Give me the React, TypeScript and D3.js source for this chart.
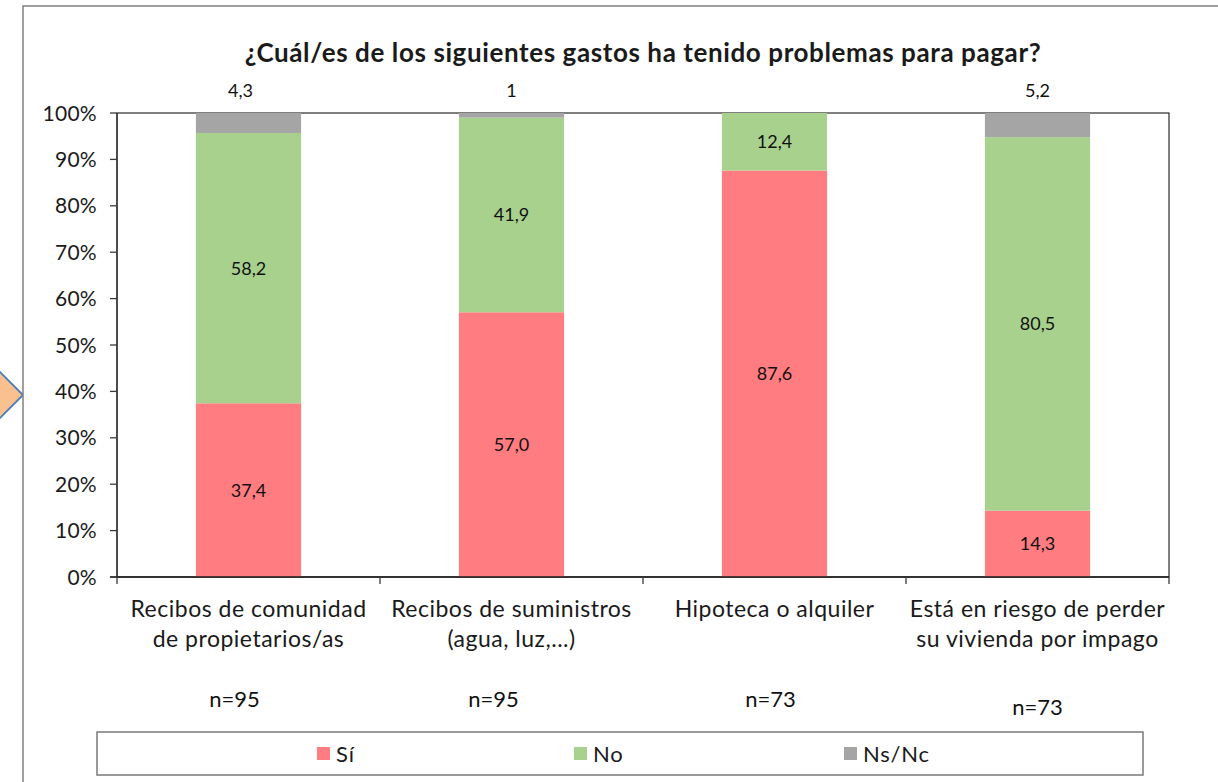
import React from "react";
import * as d3 from "d3";

const title = "¿Cuál/es de los siguientes gastos ha tenido problemas para pagar?";
const categories = [
  ["Recibos de comunidad", "de propietarios/as"],
  ["Recibos de suministros", "(agua, luz,...)"],
  ["Hipoteca o alquiler"],
  ["Está en riesgo de perder", "su vivienda por impago"],
];
const sampleSizes = ["n=95", "n=95", "n=73", "n=73"];
const seriesNames = ["Sí", "No", "Ns/Nc"];
const siValues = [37.4, 57.0, 87.6, 14.3];
const noValues = [58.2, 41.9, 12.4, 80.5];
const nsncValues = [4.3, 1, 0, 5.2];
const yTicks = [0, 0.1, 0.2, 0.3, 0.4, 0.5, 0.6, 0.7, 0.8, 0.9, 1];
const colors = ["#FF7C80", "#A9D18E", "#A5A5A5"];

const W = 1218;
const H = 782;
const plot = { left: 117, right: 1169, top: 113, bottom: 577 };
const FONT = "Lato, 'Open Sans', sans-serif";
const topLabelDx = [-8, 0, 0, 0];
const nLabelDx = [-14, -18, -4, 0];
const nLabelY = [699, 699, 699, 707];
const legendX = [317, 574, 844];

function fmt(v: number, seriesIdx: number) {
  if (seriesIdx === 2 && Number.isInteger(v)) return String(v);
  return v.toFixed(1).replace(".", ",");
}

export default function App() {
  const rows = categories.map((c, i) => ({
    key: String(i),
    s0: siValues[i],
    s1: noValues[i],
    s2: nsncValues[i],
  }));
  const keys = ["s0", "s1", "s2"];
  const stacked = d3.stack<any>().keys(keys).offset(d3.stackOffsetExpand)(rows);

  const x = d3
    .scaleBand<string>()
    .domain(rows.map((r) => r.key))
    .range([plot.left, plot.right])
    .paddingInner(0.6)
    .paddingOuter(0.3);
  const y = d3.scaleLinear().domain([0, 1]).range([plot.bottom, plot.top]);
  const pct = d3.format(".0%");

  return (
    <svg
      width={W}
      height={H}
      style={{ position: "absolute", left: 0, top: 0, background: "#fff" }}
      fontFamily={FONT}
    >
      <rect x={0} y={0} width={W} height={H} fill="#fff" />
      {/* decorative arrow shape at left */}
      <polygon
        points="-25,395 -1,371 23,395 -1,419"
        fill="#FAC090"
        stroke="#4A7EBB"
        strokeWidth={1.8}
      />
      {/* chart border */}
      <rect x={23} y={6} width={1400} height={900} fill="#fff" stroke="#808080" strokeWidth={1.5} />

      {/* title */}
      <text x={643} y={62} textAnchor="middle" fontSize={26} fontWeight={700} letterSpacing={0.6} fill="#1a1a1a">
        {title}
      </text>

      {/* plot area border */}
      <rect
        x={plot.left}
        y={plot.top}
        width={plot.right - plot.left}
        height={plot.bottom - plot.top}
        fill="#fff"
        stroke="#000"
        strokeWidth={1}
      />

      {/* bars */}
      {stacked.map((layer, si) =>
        layer.map((d, i) => {
          const y0 = y(d[0]);
          const y1 = y(d[1]);
          if (y0 - y1 <= 0) return null;
          return (
            <rect
              key={`b${si}-${i}`}
              x={x(rows[i].key)}
              y={y1}
              width={x.bandwidth()}
              height={y0 - y1}
              fill={colors[si]}
            />
          );
        })
      )}

      {/* axes */}
      <line x1={plot.left} x2={plot.left} y1={plot.top} y2={plot.bottom} stroke="#3a3a3a" strokeWidth={1.5} />
      <line x1={plot.left - 7} x2={plot.right} y1={plot.bottom} y2={plot.bottom} stroke="#1a1a1a" strokeWidth={1.5} />
      {yTicks.map((t) => (
        <g key={`yt${t}`}>
          <line x1={plot.left - 7} x2={plot.left} y1={y(t)} y2={y(t)} stroke="#3a3a3a" strokeWidth={1.3} />
          <text x={97} y={y(t)} dy="0.36em" textAnchor="end" fontSize={21} letterSpacing={0.3} fill="#1a1a1a">
            {pct(t)}
          </text>
        </g>
      ))}
      {d3.range(categories.length + 1).map((i) => {
        const xx = plot.left + (i * (plot.right - plot.left)) / categories.length;
        return (
          <line key={`xt${i}`} x1={xx} x2={xx} y1={plot.bottom} y2={plot.bottom + 7} stroke="#3a3a3a" strokeWidth={1.3} />
        );
      })}

      {/* data labels */}
      {stacked.map((layer, si) =>
        layer.map((d, i) => {
          const v = [siValues, noValues, nsncValues][si][i];
          if (!v) return null;
          const cx = (x(rows[i].key) as number) + x.bandwidth() / 2 + (si === 2 ? topLabelDx[i] : 0);
          const cy = si === 2 ? 91 : (y(d[0]) + y(d[1])) / 2;
          return (
            <text key={`l${si}-${i}`} x={cx} y={cy} dy="0.36em" textAnchor="middle" fontSize={18} fill="#111">
              {fmt(v, si)}
            </text>
          );
        })
      )}

      {/* category labels */}
      {categories.map((lines, i) => {
        const cx = (x(rows[i].key) as number) + x.bandwidth() / 2;
        return (
          <text key={`c${i}`} x={cx} textAnchor="middle" fontSize={23} letterSpacing={0.5} fill="#1a1a1a">
            {lines.map((ln, j) => (
              <tspan key={j} x={cx} y={609 + j * 29.5} dy="0.36em">
                {ln}
              </tspan>
            ))}
          </text>
        );
      })}

      {/* sample sizes */}
      {sampleSizes.map((s, i) => {
        const cx = (x(rows[i].key) as number) + x.bandwidth() / 2 + nLabelDx[i];
        return (
          <text key={`n${i}`} x={cx} y={nLabelY[i]} dy="0.36em" textAnchor="middle" fontSize={22} fill="#111">
            {s}
          </text>
        );
      })}

      {/* legend */}
      <rect x={97} y={732} width={1046} height={43} fill="#fff" stroke="#7a7a7a" strokeWidth={1.5} />
      {seriesNames.map((name, i) => (
        <g key={`lg${i}`}>
          <rect x={legendX[i]} y={747} width={13} height={13} fill={colors[i]} />
          <text x={legendX[i] + 19} y={754} dy="0.36em" fontSize={22} letterSpacing={0.8} fill="#1a1a1a">
            {name}
          </text>
        </g>
      ))}
    </svg>
  );
}
